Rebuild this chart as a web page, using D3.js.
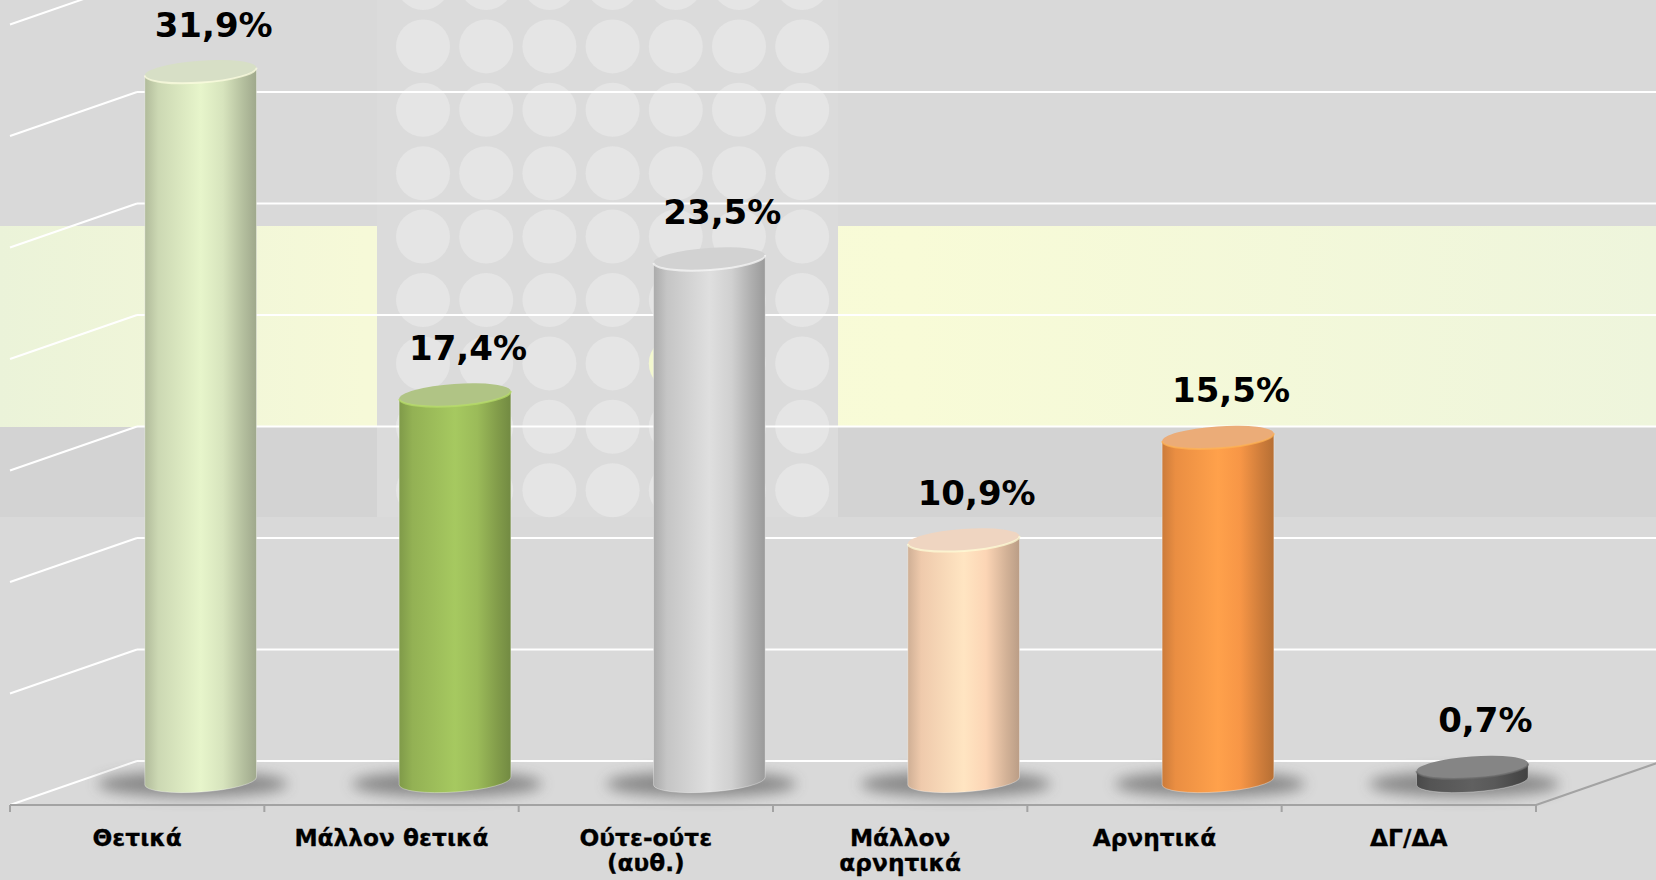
<!DOCTYPE html>
<html>
<head>
<meta charset="utf-8">
<script src="https://cdn.jsdelivr.net/npm/d3@7"></script>
<style>
  html, body { margin: 0; padding: 0; background: #d9d9d9; overflow: hidden; }
  text { font-family: "DejaVu Sans", Verdana, sans-serif; font-weight: bold; }
</style>
</head>
<body>
<svg id="chart"></svg>
<script>
// data
const categories = ["Θετικά", "Μάλλον θετικά", "Ούτε-ούτε\n(αυθ.)", "Μάλλον\nαρνητικά", "Αρνητικά", "ΔΓ/ΔΑ"];
const values = [31.9, 17.4, 23.5, 10.9, 15.5, 0.7];
const barColors = ["#d7e4bd", "#9bbb59", "#d0d0d0", "#fcd5b5", "#f79646", "#595959"];

const width = 1656, height = 880;
const depthX = 127, depthY = -44;       // front -> back offset of the 3d box
const barW = 112, ry = 11, tilt = -4;

const svg = d3.select('#chart').attr('width', width).attr('height', height);
const defs = svg.append('defs');

const x = d3.scaleBand().domain(categories).range([10, 1536]);
const y = d3.scaleLinear().domain([0, 35]).range([783, 783 - 35 * 22.3]);   // mid-depth plane
const color = d3.scaleOrdinal().domain(categories).range(barColors);
const fmt = d3.formatLocale({decimal: ",", thousands: ".", grouping: [3], currency: ["", "€"]}).format(".1f");

// ---- background decoration
svg.append('rect').attr('width', width).attr('height', height).attr('fill', '#d9d9d9');

const band = defs.append('linearGradient').attr('id', 'band')
  .attr('gradientUnits', 'userSpaceOnUse').attr('x1', 0).attr('x2', width).attr('y1', 0).attr('y2', 0);
band.append('stop').attr('offset', 0).attr('stop-color', '#ebf3d9');
band.append('stop').attr('offset', 0.22).attr('stop-color', '#f6f9d8');
band.append('stop').attr('offset', 0.55).attr('stop-color', '#f8fbd7');
band.append('stop').attr('offset', 1).attr('stop-color', '#eef5dc');

[[0, 377], [838, width]].forEach(([a, b]) => {
  svg.append('rect').attr('x', a).attr('y', 226).attr('width', b - a).attr('height', 201).attr('fill', 'url(#band)');
  svg.append('rect').attr('x', a).attr('y', 427).attr('width', b - a).attr('height', 90).attr('fill', '#d3d3d3');
});
svg.append('rect').attr('x', 377).attr('y', 0).attr('width', 461).attr('height', 517).attr('fill', '#dbdbdb');
const dots = svg.append('g');
d3.range(7).forEach(i => d3.range(9).forEach(j => {
  dots.append('circle')
    .attr('cx', 423 + i * 63.2).attr('cy', -17 + j * 63.4).attr('r', 27)
    .attr('fill', (i === 4 && j === 6) ? '#f3f8cf' : '#e5e5e5');
}));

// ---- walls: gridlines on side wall and back wall
const grid = svg.append('g').attr('stroke', '#ffffff').attr('stroke-width', 2).attr('fill', 'none');
y.ticks(7).forEach(t => {
  const yb = y(t) + depthY / 2, yf = y(t) - depthY / 2;
  grid.append('line').attr('x1', 10).attr('y1', yf).attr('x2', 10 + depthX).attr('y2', yb);
  grid.append('line').attr('x1', 10 + depthX).attr('y1', yb).attr('x2', width).attr('y2', yb);
});

// ---- cylinders
const blur = defs.append('filter').attr('id', 'blur').attr('x', '-50%').attr('y', '-200%').attr('width', '200%').attr('height', '500%');
blur.append('feGaussianBlur').attr('stdDeviation', 7);

const ang = tilt * Math.PI / 180;
const ex = barW / 2 * Math.cos(ang), ey = barW / 2 * Math.sin(ang);
const rx = barW / 2;

const bars = svg.append('g');
categories.forEach((c, i) => {
  const base = d3.color(color(c));
  const g = defs.append('linearGradient').attr('id', 'cyl' + i).attr('x1', 0).attr('x2', 1).attr('y1', 0).attr('y2', 0);
  [[0, base.darker(0.55)], [0.12, base.darker(0.15)], [0.5, base.brighter(0.2)],
   [0.7, base], [0.88, base.darker(0.5)], [1, base.darker(0.85)]]
    .forEach(([o, col]) => g.append('stop').attr('offset', o).attr('stop-color', col.formatHex()));

  const cx = x(c) + x.bandwidth() / 2 + depthX / 2;
  const yT = y(values[i]), yB = y(0) - 2;

  bars.append('ellipse')
    .attr('cx', cx - 8).attr('cy', yB + 3).attr('rx', 95).attr('ry', 13)
    .attr('fill', '#4a4a4a').attr('opacity', 0.55).attr('filter', 'url(#blur)');

  bars.append('path')
    .attr('d', `M${cx - ex},${yT - ey} L${cx - ex},${yB - ey} A${rx},${ry} ${tilt} 0 0 ${cx + ex},${yB + ey} L${cx + ex},${yT + ey} Z`)
    .attr('fill', `url(#cyl${i})`)
    .attr('stroke', 'rgba(255,255,255,0.35)').attr('stroke-width', 1);

  bars.append('ellipse')
    .attr('cx', cx).attr('cy', yT).attr('rx', rx).attr('ry', ry)
    .attr('transform', `rotate(${tilt},${cx},${yT})`)
    .attr('fill', d3.interpolateRgb(base, '#d6d6d6')(0.35));

  bars.append('path')
    .attr('d', `M${cx - ex},${yT - ey} A${rx},${ry} ${tilt} 0 0 ${cx + ex},${yT + ey}`)
    .attr('fill', 'none').attr('stroke', base.brighter(0.5).formatHex())
    .attr('stroke-width', 2).attr('opacity', 0.7);

  svg.append('text')
    .attr('x', cx + 13).attr('y', yT - 35)
    .attr('text-anchor', 'middle').attr('font-size', 34).attr('fill', '#000')
    .text(fmt(values[i]) + '%');
});

// ---- floor front edge with ticks
const axis = svg.append('g').attr('stroke', '#a3a3a3').attr('stroke-width', 2);
const yFront = y(0) - depthY / 2;
axis.append('line').attr('x1', 10).attr('y1', yFront).attr('x2', 1536).attr('y2', yFront);
axis.append('line').attr('x1', 1536).attr('y1', yFront).attr('x2', 1536 + depthX).attr('y2', yFront + depthY);
categories.concat([null]).forEach(c => {
  const px = c === null ? x.range()[1] : x(c);
  axis.append('line').attr('x1', px).attr('y1', yFront).attr('x2', px).attr('y2', yFront + 7);
});

// ---- category labels
categories.forEach(c => {
  const t = svg.append('text')
    .attr('x', x(c) + x.bandwidth() / 2).attr('y', 846)
    .attr('text-anchor', 'middle').attr('font-size', 23.3).attr('fill', '#000')
    .attr('stroke', '#000').attr('stroke-width', 0.3);
  c.split('\n').forEach((line, k) => {
    t.append('tspan').attr('x', x(c) + x.bandwidth() / 2).attr('dy', k === 0 ? 0 : 25).text(line);
  });
});
</script>
</body>
</html>
